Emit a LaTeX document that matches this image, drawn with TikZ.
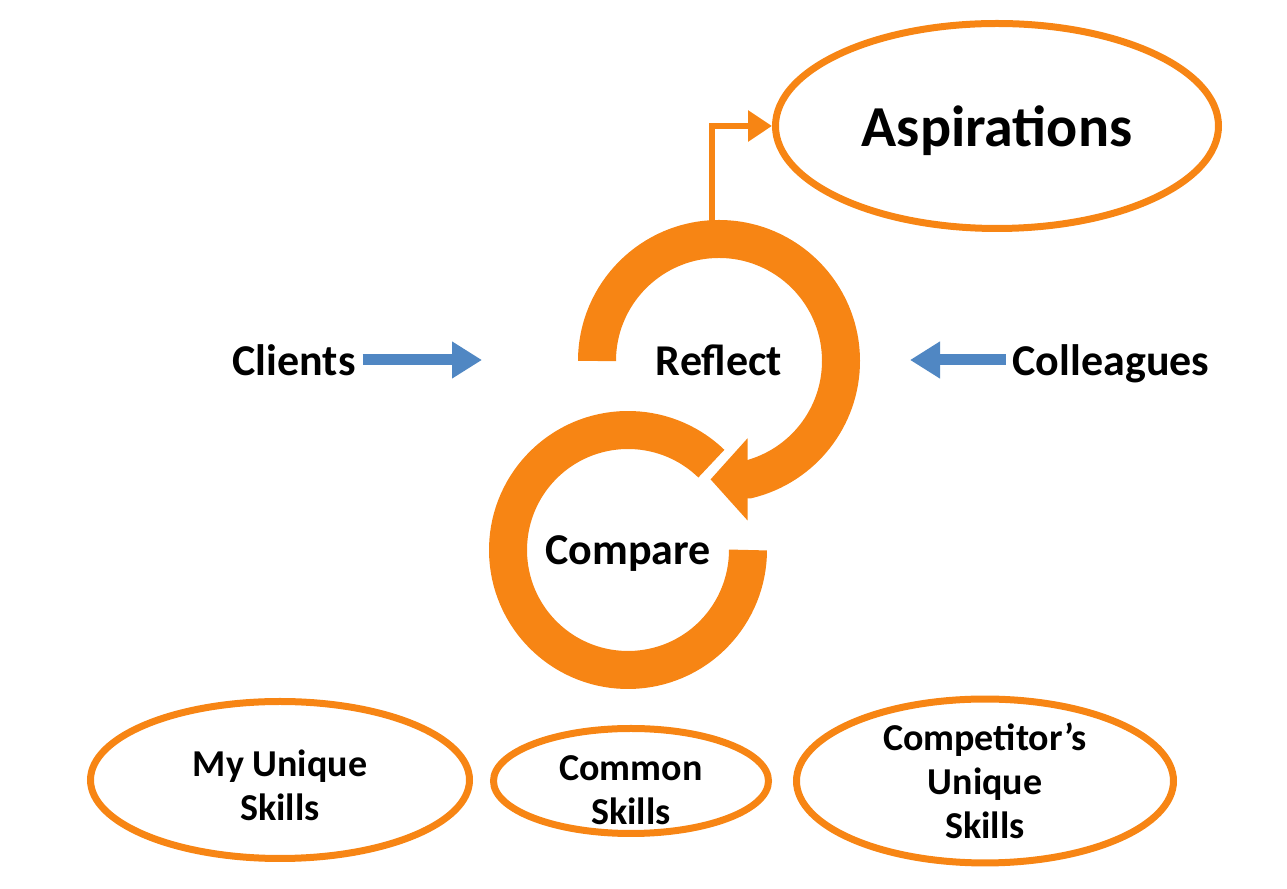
\documentclass[tikz,border=0pt]{standalone}
\usepackage{fontspec}
\setmainfont{Carlito}
\usetikzlibrary{shapes.geometric,positioning,calc,arrows.meta}
\definecolor{cycleorange}{RGB}{247,133,20}
\definecolor{inputblue}{RGB}{80,135,195}
\tikzset{RING/.style={draw=cycleorange, line width=19pt}}
\tikzset{LINK/.style={draw=cycleorange, line width=3pt, -{Triangle[width=15pt,length=12pt]}}}
\tikzset{FEED/.style={draw=inputblue, line width=5.5pt, -{Triangle[width=17.5pt,length=15pt]}}}
\tikzset{BUBBLE/.style={ellipse, draw=cycleorange, line width=3.5pt, inner sep=0pt, align=center, font=\bfseries\fontsize{19}{22}\selectfont}}
\tikzset{LABEL/.style={anchor=base, font=\bfseries\fontsize{22}{26}\selectfont}}

\begin{document}
\begin{tikzpicture}[x=0.5pt, y=0.5pt]
    \useasboundingbox (0,0) rectangle (1287,889);

    \coordinate (reflect_c) at (719,528);
    \coordinate (compare_c) at (628,339);
    \coordinate (reflect_top) at ($(reflect_c)+(-7,122)$);

    \node[BUBBLE, minimum width=221.5pt, minimum height=102.5pt, text depth=0pt, font=\bfseries\fontsize{29}{34}\selectfont] (n_aspire) at (997,763) {Aspirations};

    \draw[LINK] (reflect_top) |- (n_aspire.west);
    \draw[RING] ($(compare_c)+(46:120)$) arc[start angle=46, end angle=360, radius=120];
    \draw[RING, -{Triangle[width=40pt,length=18.5pt]}] ($(reflect_c)+(180:122)$) arc[start angle=180, end angle=-76, radius=122] -- ++(-38,0);

    \node[LABEL] (n_reflect) at (719,513) {Reflect};
    \node[LABEL] (n_compare) at (628,324) {Compare};
    \node[LABEL] (n_clients) at (294,513) {Clients};
    \node[LABEL] (n_colleagues) at (1111,513) {Colleagues};

    \coordinate (clients_end) at (482,529);
    \draw[FEED] (n_clients.east |- clients_end) -- (clients_end);
    \coordinate (colleagues_end) at (910,529);
    \draw[FEED] (n_colleagues.west |- colleagues_end) -- (colleagues_end);

    \node[BUBBLE, minimum width=189.5pt, minimum height=78.5pt, text height=41pt] (n_mine) at (280,109) {My Unique\\Skills};
    \node[BUBBLE, minimum width=137.5pt, minimum height=52.5pt, text height=44pt, inner ysep=-6pt] (n_common) at (631,108) {Common\\Skills};
    \node[BUBBLE, minimum width=188.5pt, minimum height=80.5pt] (n_theirs) at (985,108) {Competitor's\\Unique\\Skills};
\end{tikzpicture}
\end{document}
